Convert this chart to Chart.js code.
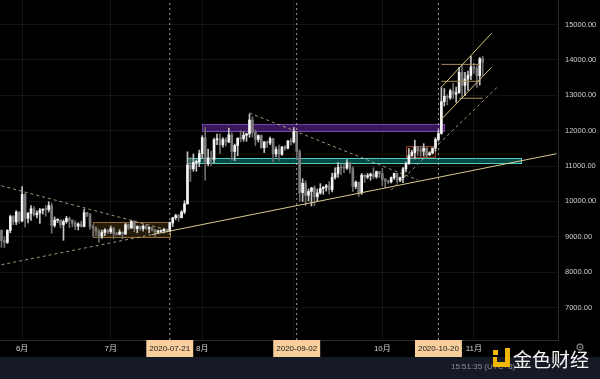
<!DOCTYPE html>
<html>
<head>
<meta charset="utf-8">
<script src="https://cdn.jsdelivr.net/npm/chart.js@4.4.0/dist/chart.umd.min.js"></script>
<style>
html,body{margin:0;padding:0;background:#000;}
#wrap{position:relative;width:600px;height:379px;overflow:hidden;background:#000;}
#c{position:absolute;left:0;top:0;}
#bar{position:absolute;left:0;top:357px;width:600px;height:22px;background:#161a24;}
#time{position:absolute;left:451px;top:362px;font:8px 'Liberation Sans',Arial,sans-serif;color:#8a8e99;white-space:nowrap;}
.lg{position:absolute;background:#f2b705;}
#wm{position:absolute;left:513px;top:347px;font:19px 'Noto Sans CJK SC',sans-serif;color:#f4f4f4;letter-spacing:0px;white-space:nowrap;line-height:24px;}
#gear{position:absolute;left:575px;top:341px;font:11px 'DejaVu Sans',sans-serif;color:#8a8a8a;}
</style>
</head>
<body>
<div id="wrap">
  <canvas id="c" width="600" height="357"></canvas>
  <div id="bar"></div>
  <div id="time">15:51:35 (UTC+8)</div>
  <div class="lg" style="left:493px;top:350px;width:5px;height:5px;"></div>
  <div class="lg" style="left:505px;top:348px;width:5px;height:19px;"></div>
  <div class="lg" style="left:493px;top:362px;width:17px;height:5px;"></div>
  <div class="lg" style="left:493px;top:357px;width:4px;height:10px;"></div>
  <div id="wm">金色财经</div>
  <div id="gear">⚙</div>
</div>
<script>
// ---------- categories (daily, 2020-05-25 .. 2020-11-29) ----------
const firstDate = '2020-05-25';
const dayCount = 189;
const dates = [];
for (let i = 0; i < dayCount; i++) {
  const d = new Date(Date.parse(firstDate + 'T00:00:00Z') + i * 86400000);
  dates.push(d.toISOString().slice(0, 10));
}

// ---------- candle values (from 2020-05-25, one per day) ----------
const opens = [
  9180,8890,8840,9180,9570,9420,9700,
  9450,10200,9520,9660,9790,9620,9670,9750,9780,9770,9880,9320,9470,9470,9340,9430,9520,9460,9380,9300,9360,9290,9680,9620,9290,9250,9160,9010,9120,9190,
  9140,9230,9090,9070,9130,9080,9340,9250,9430,9230,9290,9230,9300,9240,9250,9190,9130,9150,9170,9210,9160,9390,9540,9600,9540,9700,9930,11030,10920,11100,11110,
  11350,11800,11070,11230,11190,11740,11770,11600,11750,11680,11880,11410,11580,11780,11770,11870,11910,12300,11950,11750,11860,11520,11680,11650,11770,11340,11470,11330,11540,11500,11710,
  11680,11970,11410,10250,10510,10170,10280,10380,10130,10240,10360,10400,10440,10330,10680,10790,10960,10950,10940,11090,10920,10420,10540,10240,10740,10690,10730,10770,10700,10840,
  10780,10620,10570,10550,10670,10790,10600,10670,10920,11060,11300,11380,11540,11430,11420,11500,11320,11370,11510,11750,11920,12820,12970,12930,13120,13030,13070,13650,13280,13460,13560,
  13800,13760,13550,14030
];
const highs = [
  9200,9010,9200,9610,9600,9740,9700,
  10420,10230,9690,9880,9850,9730,9800,9790,9880,9990,9950,9560,9500,9480,9480,9580,9560,9480,9450,9400,9440,9780,9690,9660,9340,9280,9200,9190,9230,9200,
  9300,9270,9130,9200,9140,9380,9360,9460,9450,9310,9300,9340,9340,9280,9270,9210,9190,9190,9240,9220,9420,9550,9640,9640,9740,10020,11400,11240,11340,11170,11450,
  11860,12100,11480,11420,11790,11900,11910,11800,11800,12070,11940,11620,11800,12000,11960,11930,12470,12390,12020,11880,11880,11690,11710,11820,11780,11540,11590,11550,11580,11720,11780,
  12090,11980,11460,10640,10580,10350,10400,10440,10350,10500,10420,10480,10560,10800,10950,11100,11050,11040,11180,11090,10980,10580,10550,10790,10760,10790,10800,10950,10860,10850,
  10930,10650,10600,10690,10800,10800,10690,10960,11110,11490,11440,11730,11560,11550,11630,11540,11400,11500,11800,12020,13220,13190,13020,13170,13340,13230,13790,13860,13650,13680,14100,
  13900,13830,14070,14100
];
const lows = [
  8700,8700,8810,9110,9340,9340,9380,
  9420,9270,9390,9460,9580,9530,9380,9640,9580,9700,9100,9270,9400,9250,8900,9380,9260,9280,9200,9190,9270,9280,9570,9210,9000,9030,8850,8950,9030,9080,
  9090,8950,9040,9050,8940,9060,9200,9230,9140,9110,9180,9160,9200,9110,9160,9000,9090,9120,9110,9130,9150,9290,9480,9440,9530,9650,9920,10560,10850,10850,10980,
  11220,10600,11000,11020,11090,11600,11350,11530,11560,11660,11160,11150,11290,11680,11700,11700,11810,11820,11580,11680,11500,11380,11520,11600,11120,11260,11160,11300,11440,11480,11590,
  11650,11200,10000,10000,9880,10010,9870,9880,10000,10200,10200,10290,10210,10270,10630,10680,10750,10810,10900,10800,10280,10360,10140,10200,10540,10640,10600,10640,10650,10670,
  10440,10380,10500,10520,10620,10520,10560,10530,10830,11050,11270,11200,11300,11280,11280,11220,11290,11340,11420,11700,11900,12700,12730,12880,12900,12800,13060,12930,12990,13140,13440,
  13620,13220,13290,13560
];
const closes = [
  8890,8840,9180,9570,9420,9700,9450,
  10200,9520,9660,9790,9620,9670,9750,9780,9770,9880,9320,9470,9470,9340,9430,9520,9460,9380,9300,9360,9290,9680,9620,9290,9250,9160,9010,9120,9190,9140,
  9230,9090,9070,9130,9080,9340,9250,9430,9230,9290,9230,9300,9240,9250,9190,9130,9150,9170,9210,9160,9390,9540,9600,9540,9700,9930,11030,10920,11100,11110,11350,
  11800,11070,11230,11190,11740,11770,11600,11750,11680,11880,11410,11580,11780,11770,11870,11910,12300,11950,11750,11860,11520,11680,11650,11770,11340,11470,11330,11540,11500,11710,11680,
  11970,11410,10250,10510,10170,10280,10380,10130,10240,10360,10400,10440,10330,10680,10790,10960,10950,10940,11090,10920,10420,10540,10240,10740,10690,10730,10770,10700,10840,10780,
  10620,10570,10550,10670,10790,10600,10670,10920,11060,11300,11380,11540,11430,11420,11500,11320,11370,11510,11750,11920,12820,12970,12930,13120,13030,13070,13650,13280,13460,13560,13800,
  13760,13550,14030,13940
];

// ---------- axis ticks ----------
const priceTicks = [7000, 8000, 9000, 10000, 11000, 12000, 13000, 14000, 15000];
const priceMin = 6081, priceMax = 15693;
const monthTickDates = ['2020-06-01','2020-07-01','2020-08-01','2020-10-01','2020-11-01'];
const monthTickLabels = ['6月','7月','8月','10月','11月'];
const gridDates = ['2020-06-01','2020-07-01','2020-08-01','2020-09-01','2020-10-01','2020-11-01'];
const markedDates = ['2020-07-21','2020-09-02','2020-10-20'];

// ---------- drawings (date, price) ----------
const dashedTrends = [
  [['2020-05-25',10440],['2020-07-19',9219]],
  [['2020-05-25',8210],['2020-07-15',9061]],
  [['2020-08-17',12500],['2020-10-13',10604]],
  [['2020-10-04',10322],['2020-11-09',13233]]
];
const solidTrends = [
  [['2020-07-15',9061],['2020-11-29',11348]]
];
const channelLines = [
  [['2020-10-21',13230],['2020-11-07',14750]],
  [['2020-10-21',12320],['2020-11-07',13790]]
];
const levelLines = [
  ['2020-10-21','2020-11-03',13873],
  ['2020-10-21','2020-11-03',13394],
  ['2020-10-27','2020-11-04',12915]
];
const boxes = [
  {from:'2020-06-25', to:'2020-07-21', lo:8993,  hi:9417,  kind:'range'},
  {from:'2020-08-01', to:'2020-10-22', lo:11989, hi:12187, kind:'resist'},
  {from:'2020-07-27', to:'2020-11-17', lo:11085, hi:11226, kind:'support'},
  {from:'2020-10-09', to:'2020-10-19', lo:11254, hi:11565, kind:'small'}
];

// ---------- styles ----------
const boxStyles = {
  range:   {fill:'rgba(110,75,25,0.35)', stroke:'#8f6a33'},
  resist:  {fill:'rgba(80,32,125,0.72)', stroke:'#7446a8'},
  support: {fill:'rgba(10,105,98,0.7)', stroke:'#55c9bd'},
  small:   {fill:'rgba(100,35,20,0.30)', stroke:'#8a3a28'}
};
const UP = '#f4f4f4', DOWN = '#7c7c7c', WICK_UP = '#c4c4c4', WICK_DOWN = '#6e6e6e';

const boxPlugin = {
  id: 'boxes',
  beforeDatasetsDraw(chart) {
    const {ctx, chartArea} = chart;
    const xs = chart.scales.x, ys = chart.scales.y;
    ctx.save();
    ctx.beginPath();
    ctx.rect(chartArea.left, chartArea.top, chartArea.right - chartArea.left, chartArea.bottom - chartArea.top);
    ctx.clip();
    boxes.forEach(b => {
      const st = boxStyles[b.kind];
      const x1 = Math.round(xs.getPixelForValue(dates.indexOf(b.from))) + 0.5;
      const x2 = Math.round(xs.getPixelForValue(dates.indexOf(b.to))) + 0.5;
      const y1 = Math.round(ys.getPixelForValue(b.hi)) + 0.5;
      const y2 = Math.round(ys.getPixelForValue(b.lo)) + 0.5;
      ctx.fillStyle = st.fill;
      ctx.fillRect(x1, y1, x2 - x1, y2 - y1);
      ctx.strokeStyle = st.stroke;
      ctx.lineWidth = 1;
      ctx.strokeRect(x1, y1, x2 - x1, y2 - y1);
    });
    ctx.restore();
  }
};

function seg(points, color, dash, order) {
  return {
    type: 'line',
    data: points.map(p => ({x: p[0], y: p[1]})),
    borderColor: color, borderWidth: 1, borderDash: dash,
    pointRadius: 0, fill: false, tension: 0, order: order
  };
}

const datasets = [];
markedDates.forEach(d => datasets.push(seg([[d, priceMin], [d, priceMax]], 'rgba(225,215,190,0.75)', [2, 3], 5)));
datasets.push({
  type: 'bar',
  data: lows.map((l, i) => [l, highs[i]]),
  backgroundColor: ctx => closes[ctx.dataIndex] >= opens[ctx.dataIndex] ? WICK_UP : WICK_DOWN,
  barThickness: 1, grouped: false, order: 3
});
datasets.push({
  type: 'bar',
  data: opens.map((o, i) => [o, closes[i]]),
  backgroundColor: ctx => closes[ctx.dataIndex] >= opens[ctx.dataIndex] ? UP : DOWN,
  barThickness: 2, minBarLength: 1, grouped: false, order: 2
});
dashedTrends.forEach(t => datasets.push(seg(t, 'rgba(200,188,150,0.8)', [3, 3], 1)));
solidTrends.forEach(t => datasets.push(seg(t, '#d9c98f', [], 1)));
channelLines.forEach(t => datasets.push(seg(t, '#d8c47e', [], 1)));
levelLines.forEach(l => datasets.push(seg([[l[0], l[2]], [l[1], l[2]]], '#a48e5e', [], 1)));

const FONT = "'Liberation Sans', Arial, 'Noto Sans CJK SC', sans-serif";

new Chart(document.getElementById('c'), {
  type: 'bar',
  data: {labels: dates, datasets: datasets},
  plugins: [boxPlugin],
  options: {
    responsive: false,
    animation: false,
    events: [],
    layout: {padding: 0, autoPadding: false},
    plugins: {legend: {display: false}, tooltip: {enabled: false}},
    scales: {
      x: {
        type: 'category',
        offset: true,
        afterFit: s => { s.height = 17; s.paddingLeft = 0; s.paddingRight = 0; },
        grid: {
          offset: false, drawTicks: false, lineWidth: 1,
          color: ctx => (ctx.tick && gridDates.includes(dates[ctx.tick.value])) ? 'rgba(255,255,255,0.07)' : 'rgba(0,0,0,0)'
        },
        border: {display: true, color: '#2c2c2c'},
        ticks: {
          autoSkip: false, maxRotation: 0, minRotation: 0, padding: 4,
          font: {family: FONT, size: 8},
          color: ctx => markedDates.includes(dates[ctx.tick.value]) ? '#1a1a1a' : '#d4d4d4',
          showLabelBackdrop: ctx => markedDates.includes(dates[ctx.tick.value]),
          backdropColor: '#f8cf9c',
          backdropPadding: {x: 3, y: 4},
          callback: function (value) {
            const d = dates[value];
            const m = monthTickDates.indexOf(d);
            if (m >= 0) return monthTickLabels[m];
            if (markedDates.includes(d)) return d;
            return '';
          }
        }
      },
      y: {
        type: 'linear',
        position: 'right',
        min: priceMin, max: priceMax,
        afterFit: s => { s.width = 42; s.paddingTop = 0; s.paddingBottom = 0; },
        afterBuildTicks: s => { s.ticks = priceTicks.map(v => ({value: v})); },
        grid: {color: 'rgba(255,255,255,0.07)', drawTicks: false},
        border: {display: true, color: '#2c2c2c'},
        ticks: {
          padding: 7,
          font: {family: FONT, size: 7.5},
          color: '#cfcfcf',
          callback: v => Number(v).toFixed(2)
        }
      }
    }
  }
});
</script>
</body>
</html>
